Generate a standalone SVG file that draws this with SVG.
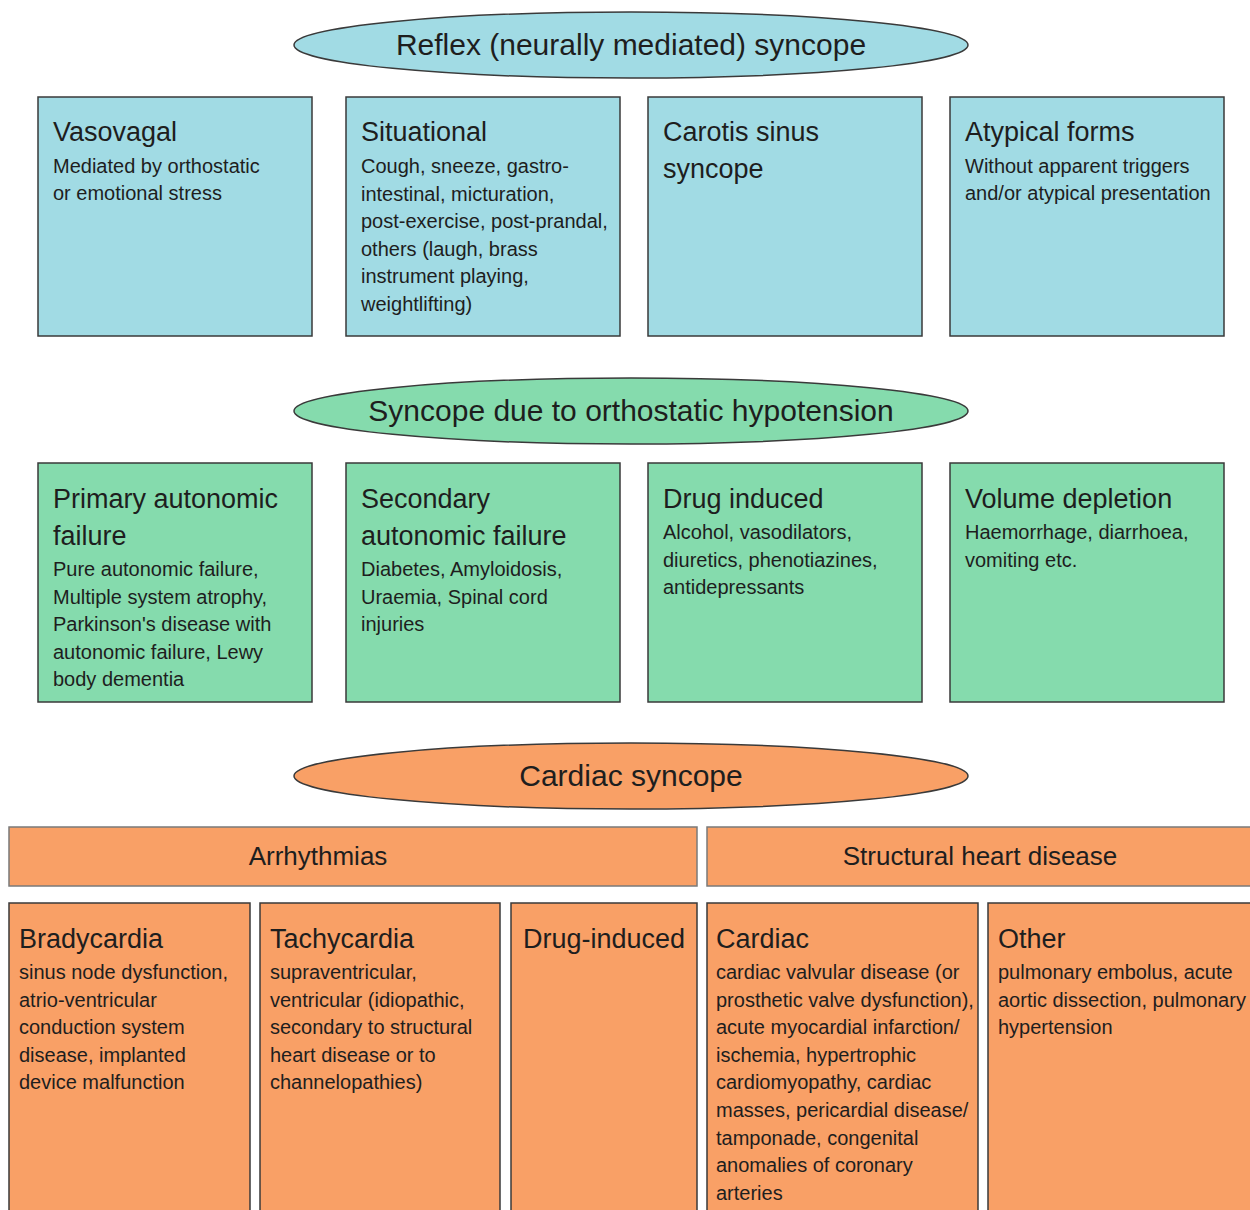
<svg xmlns="http://www.w3.org/2000/svg" width="1250" height="1210" viewBox="0 0 1250 1210">
<style>
text{font-family:"Liberation Sans",Arial,sans-serif;fill:#1e1e1e}
.el{font-size:30px;text-anchor:middle}
.t{font-size:27px}
.b{font-size:20px}
.hd{font-size:26px;text-anchor:middle}
.blue{fill:#a1dbe4;stroke:#3a3a3a;stroke-width:1.5}
.green{fill:#85dbad;stroke:#3a3a3a;stroke-width:1.5}
.orange{fill:#f9a066;stroke:#3a3a3a;stroke-width:1.5}
.bar{fill:#f9a066;stroke:#7a7a7a;stroke-width:1.5}
</style>
<rect width="1250" height="1210" fill="#ffffff"/>
<g id="connectors"/>

<g id="reflex">
<ellipse class="blue" cx="631" cy="45" rx="337" ry="33"/>
<text class="el" x="631" y="55">Reflex (neurally mediated) syncope</text>
</g>
<g id="vasovagal">
<rect class="blue" x="38" y="97" width="274" height="239"/>
<text class="t" x="53" y="141">Vasovagal</text>
<text class="b" x="53" y="173">Mediated by orthostatic</text>
<text class="b" x="53" y="200">or emotional stress</text>
</g>
<g id="situational">
<rect class="blue" x="346" y="97" width="274" height="239"/>
<text class="t" x="361" y="141">Situational</text>
<text class="b" x="361" y="173">Cough, sneeze, gastro-</text>
<text class="b" x="361" y="200.6">intestinal, micturation,</text>
<text class="b" x="361" y="228.2">post-exercise, post-prandal,</text>
<text class="b" x="361" y="255.8">others (laugh, brass</text>
<text class="b" x="361" y="283.4">instrument playing,</text>
<text class="b" x="361" y="311">weightlifting)</text>
</g>
<g id="carotis">
<rect class="blue" x="648" y="97" width="274" height="239"/>
<text class="t" x="663" y="141">Carotis sinus</text>
<text class="t" x="663" y="178">syncope</text>
</g>
<g id="atypical">
<rect class="blue" x="950" y="97" width="274" height="239"/>
<text class="t" x="965" y="141">Atypical forms</text>
<text class="b" x="965" y="173">Without apparent triggers</text>
<text class="b" x="965" y="200">and/or atypical presentation</text>
</g>

<g id="orthostatic">
<ellipse class="green" cx="631" cy="411" rx="337" ry="33"/>
<text class="el" x="631" y="421">Syncope due to orthostatic hypotension</text>
</g>
<g id="primary">
<rect class="green" x="38" y="463" width="274" height="239"/>
<text class="t" x="53" y="508">Primary autonomic</text>
<text class="t" x="53" y="545">failure</text>
<text class="b" x="53" y="576">Pure autonomic failure,</text>
<text class="b" x="53" y="603.6">Multiple system atrophy,</text>
<text class="b" x="53" y="631.2">Parkinson's disease with</text>
<text class="b" x="53" y="658.8">autonomic failure, Lewy</text>
<text class="b" x="53" y="686.4">body dementia</text>
</g>
<g id="secondary">
<rect class="green" x="346" y="463" width="274" height="239"/>
<text class="t" x="361" y="508">Secondary</text>
<text class="t" x="361" y="545">autonomic failure</text>
<text class="b" x="361" y="576">Diabetes, Amyloidosis,</text>
<text class="b" x="361" y="603.6">Uraemia, Spinal cord</text>
<text class="b" x="361" y="631.2">injuries</text>
</g>
<g id="drug-induced-oh">
<rect class="green" x="648" y="463" width="274" height="239"/>
<text class="t" x="663" y="508">Drug induced</text>
<text class="b" x="663" y="539">Alcohol, vasodilators,</text>
<text class="b" x="663" y="566.6">diuretics, phenotiazines,</text>
<text class="b" x="663" y="594.2">antidepressants</text>
</g>
<g id="volume">
<rect class="green" x="950" y="463" width="274" height="239"/>
<text class="t" x="965" y="508">Volume depletion</text>
<text class="b" x="965" y="539">Haemorrhage, diarrhoea,</text>
<text class="b" x="965" y="566.6">vomiting etc.</text>
</g>

<g id="cardiac-syncope">
<ellipse class="orange" cx="631" cy="776" rx="337" ry="33"/>
<text class="el" x="631" y="786">Cardiac syncope</text>
</g>
<g id="arrhythmias">
<rect class="bar" x="9" y="827" width="688" height="59"/>
<text class="hd" x="318" y="865">Arrhythmias</text>
</g>
<g id="structural">
<rect class="bar" x="707" y="827" width="550" height="59"/>
<text class="hd" x="980" y="865">Structural heart disease</text>
</g>
<g id="bradycardia">
<rect class="orange" x="9" y="903" width="241" height="320"/>
<text class="t" x="19" y="948">Bradycardia</text>
<text class="b" x="19" y="979">sinus node dysfunction,</text>
<text class="b" x="19" y="1006.6">atrio-ventricular</text>
<text class="b" x="19" y="1034.2">conduction system</text>
<text class="b" x="19" y="1061.8">disease, implanted</text>
<text class="b" x="19" y="1089.4">device malfunction</text>
</g>
<g id="tachycardia">
<rect class="orange" x="260" y="903" width="240" height="320"/>
<text class="t" x="270" y="948">Tachycardia</text>
<text class="b" x="270" y="979">supraventricular,</text>
<text class="b" x="270" y="1006.6">ventricular (idiopathic,</text>
<text class="b" x="270" y="1034.2">secondary to structural</text>
<text class="b" x="270" y="1061.8">heart disease or to</text>
<text class="b" x="270" y="1089.4">channelopathies)</text>
</g>
<g id="drug-induced-arr">
<rect class="orange" x="511" y="903" width="186" height="320"/>
<text class="t" x="523" y="948">Drug-induced</text>
</g>
<g id="cardiac">
<rect class="orange" x="707" y="903" width="271" height="320"/>
<text class="t" x="716" y="948">Cardiac</text>
<text class="b" x="716" y="979">cardiac valvular disease (or</text>
<text class="b" x="716" y="1006.6">prosthetic valve dysfunction),</text>
<text class="b" x="716" y="1034.2">acute myocardial infarction/</text>
<text class="b" x="716" y="1061.8">ischemia, hypertrophic</text>
<text class="b" x="716" y="1089.4">cardiomyopathy, cardiac</text>
<text class="b" x="716" y="1117">masses, pericardial disease/</text>
<text class="b" x="716" y="1144.6">tamponade, congenital</text>
<text class="b" x="716" y="1172.2">anomalies of coronary</text>
<text class="b" x="716" y="1199.8">arteries</text>
</g>
<g id="other">
<rect class="orange" x="988" y="903" width="270" height="320"/>
<text class="t" x="998" y="948">Other</text>
<text class="b" x="998" y="979">pulmonary embolus, acute</text>
<text class="b" x="998" y="1006.6">aortic dissection, pulmonary</text>
<text class="b" x="998" y="1034.2">hypertension</text>
</g>
</svg>
